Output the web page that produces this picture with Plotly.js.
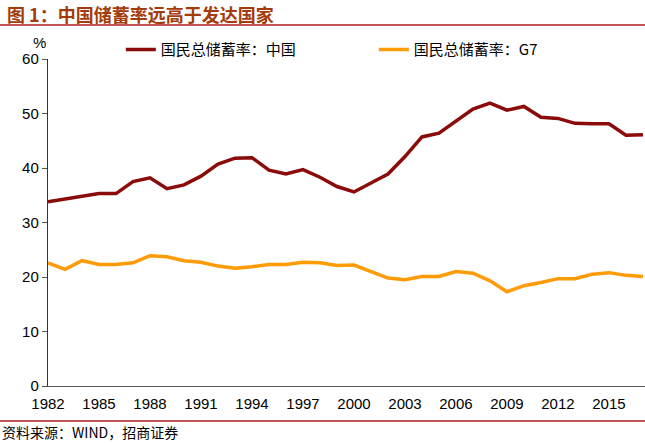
<!DOCTYPE html>
<html>
<head>
<meta charset="utf-8">
<script src="https://cdn.plot.ly/plotly-3.0.1.min.js"></script>
<style>
  html, body { margin: 0; padding: 0; background: #fff; }
  #chart { width: 645px; height: 443px; }
</style>
</head>
<body>
<div id="chart"></div>
<script>
const years = [1982,1983,1984,1985,1986,1987,1988,1989,1990,1991,1992,1993,1994,1995,1996,1997,1998,1999,
               2000,2001,2002,2003,2004,2005,2006,2007,2008,2009,2010,2011,2012,2013,2014,2015,2016,2017];
const chinaSaving = [33.8,34.3,34.9,35.3,35.3,37.5,38.2,36.2,36.9,38.5,40.7,41.8,41.9,39.6,38.9,39.7,38.3,36.6,
                     35.6,37.2,38.9,42.1,45.7,46.4,48.6,50.8,51.9,50.6,51.3,49.3,49.1,48.2,48.1,48.1,46.0,46.1];
const g7Saving = [22.6,21.4,23.0,22.3,22.3,22.6,23.9,23.7,23.0,22.7,22.0,21.6,21.9,22.3,22.3,22.7,22.6,22.1,
                  22.2,21.0,19.8,19.5,20.1,20.1,21.0,20.7,19.3,17.3,18.4,19.0,19.7,19.7,20.5,20.8,20.3,20.1];
const xTicks = [1982,1985,1988,1991,1994,1997,2000,2003,2006,2009,2012,2015];
const yTicks = [0,10,20,30,40,50,60];
const seriesNames = ['国民总储蓄率：中国', '国民总储蓄率：G7'];
const titleText = '图 1：中国储蓄率远高于发达国家';
const sourceText = '资料来源：WIND，招商证券';
const unitText = '%';

const cjk = '"Noto Sans CJK SC", "Liberation Sans", Arial, sans-serif';
const num = '"Liberation Sans", Arial, sans-serif';

const traces = [
  { x: years, y: chinaSaving, name: seriesNames[0], type: 'scatter', mode: 'lines',
    line: { color: '#8B0A0A', width: 3.5 } },
  { x: years, y: g7Saving, name: seriesNames[1], type: 'scatter', mode: 'lines',
    line: { color: '#FF9B05', width: 3.5 } }
];

const layout = {
  width: 645, height: 443,
  margin: { l: 48, r: 0, t: 59, b: 57 },
  paper_bgcolor: '#fff', plot_bgcolor: '#fff',
  showlegend: true,
  legend: {
    orientation: 'h', x: 0.122, xanchor: 'left', y: 1.028, yanchor: 'middle',
    font: { family: cjk, size: 15, color: '#000' },
    entrywidth: 208, entrywidthmode: 'pixels', bgcolor: 'rgba(0,0,0,0)'
  },
  xaxis: {
    range: [1982, 2017.12], tickvals: xTicks, ticktext: xTicks.map(String),
    showline: true, linecolor: '#555', linewidth: 1.2, ticks: '', showgrid: false, zeroline: false,
    tickfont: { family: num, size: 15, color: '#000' }, ticklabelstandoff: 4
  },
  yaxis: {
    range: [0, 60], tickvals: yTicks, showline: true, linecolor: '#333', linewidth: 1.2,
    ticks: 'outside', ticklen: 5, tickcolor: '#555', showgrid: false, zeroline: false,
    tickfont: { family: num, size: 15, color: '#000' }
  },
  annotations: [
    { text: '<b>' + titleText + '</b>', xref: 'paper', yref: 'paper', x: -0.072, y: 1.138,
      xanchor: 'left', yanchor: 'middle', showarrow: false,
      font: { family: cjk, size: 18, color: '#A33B0B' } },
    { text: unitText, xref: 'paper', yref: 'paper', x: -0.014, y: 1.05,
      xanchor: 'center', yanchor: 'middle', showarrow: false,
      font: { family: num, size: 15, color: '#000' } },
    { text: sourceText, xref: 'paper', yref: 'paper', x: -0.08, y: -0.142,
      xanchor: 'left', yanchor: 'middle', showarrow: false,
      font: { family: cjk, size: 14, color: '#000' } }
  ],
  shapes: [
    { type: 'line', xref: 'paper', yref: 'paper', x0: -0.1, x1: 1.01, y0: 1.104, y1: 1.104,
      line: { color: '#B01A1A', width: 1.5 } },
    { type: 'line', xref: 'paper', yref: 'paper', x0: -0.1, x1: 1.01, y0: -0.107, y1: -0.107,
      line: { color: '#B01A1A', width: 1.5 } }
  ]
};

Plotly.newPlot('chart', traces, layout, { staticPlot: true, displayModeBar: false });
</script>
</body>
</html>
